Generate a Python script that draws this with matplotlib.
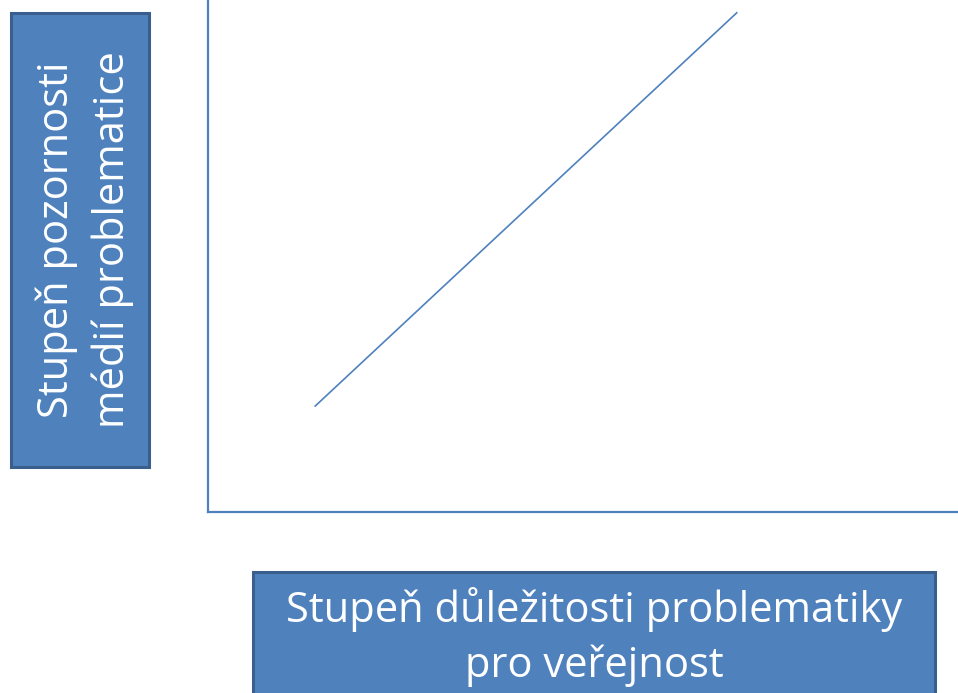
import matplotlib.pyplot as plt
from matplotlib.patches import Rectangle

# diagonal line (data units, axes 0..10)
line_x = [1.43, 7.05]
line_y = [2.07, 9.75]

ylabel_text = "Stupeň pozornosti\nmédií problematice"
xlabel_text = "Stupeň důležitosti problematiky\npro veřejnost"

W, H = 958, 693
blue = "#4F81BD"
dark = "#3A5F8C"

fig = plt.figure(figsize=(W / 100, H / 100), dpi=100)
ax = fig.add_axes([208 / W, (H - 512) / H, (W - 208) / W, 512 / H])
ax.plot(line_x, line_y, color=blue, lw=1.2)
ax.set_xlim(0, 10)
ax.set_ylim(0, 10)
ax.set_xticks([])
ax.set_yticks([])
for s in ["top", "right"]:
    ax.spines[s].set_visible(False)
for s in ["left", "bottom"]:
    ax.spines[s].set_color(blue)
    ax.spines[s].set_linewidth(1.6)

# label boxes
def box(x0, y0, x1, y1):
    fig.add_artist(Rectangle((x0 / W, 1 - y1 / H), (x1 - x0) / W, (y1 - y0) / H,
                             transform=fig.transFigure, facecolor=blue,
                             edgecolor=dark, lw=2.2, clip_on=False))

box(11, 13, 149, 467)
box(253, 572, 935, 700)

fig.text(85 / W, 1 - 240 / H, ylabel_text, rotation=90, ha="center", va="center",
         color="white", fontsize=30, family="Open Sans", linespacing=1.4)
fig.text(594 / W, 1 - 637 / H, xlabel_text, ha="center", va="center",
         color="white", fontsize=30, family="Open Sans", linespacing=1.4)

fig.savefig("out.png", dpi=100)
